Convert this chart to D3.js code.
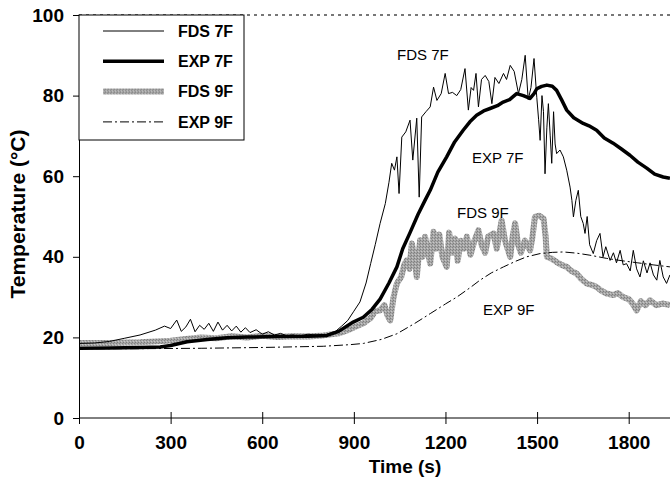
<!DOCTYPE html>
<html>
<head>
<meta charset="utf-8">
<script src="https://cdn.jsdelivr.net/npm/d3@7"></script>
<style>
  body { margin: 0; background: #fff; }
  svg { display: block; font-family: "Liberation Sans", Arial, sans-serif; }
</style>
</head>
<body>
<svg></svg>
<script>
// series: time (s) and temperature (C)
var fds7T = [0,50,100,150,200,250,280,300,320,335,350,365,380,395,410,425,440,455,470,485,500,515,530,545,560,580,600,620,640,660,680,700,720,750,780,810,840,860,880,900,920,940,955,970,986,1003,1015,1024,1033,1041,1048,1057,1070,1084,1093,1106,1114,1122,1136,1150,1161,1172,1186,1199,1210,1223,1237,1250,1264,1275,1284,1292,1300,1308,1318,1330,1342,1352,1362,1375,1390,1400,1412,1425,1439,1450,1461,1471,1480,1490,1499,1505,1510,1516,1521,1526,1532,1537,1543,1548,1554,1559,1564,1575,1586,1597,1608,1614,1619,1627,1635,1643,1651,1657,1664,1672,1684,1695,1706,1716,1725,1739,1750,1760,1772,1782,1793,1805,1815,1826,1837,1848,1860,1870,1881,1892,1902,1913,1924,1935];
var fds7V = [18.5,18.6,19.0,19.8,20.6,21.8,22.8,22.2,24.3,21.5,22.6,24.5,21.4,23.0,22.0,23.5,21.5,23.8,21.8,23.0,21.6,22.8,21.3,22.4,21.2,21.9,20.8,21.4,20.6,21.0,20.4,20.6,20.3,20.8,20.5,20.7,21.5,22.8,24.2,26.5,28.8,33.5,38.3,43.0,48.3,53.2,58.5,63.2,61.5,64.8,55.7,69.7,71.0,73.9,64.0,74.4,54.8,74.7,76.0,77.2,82.1,78.8,80.5,85.5,80.5,80.8,80.0,81.5,86.7,76.4,82.0,81.3,85.5,77.2,84.0,85.0,83.5,78.0,84.5,83.0,85.5,84.0,87.5,86.0,80.5,84.0,90.0,79.0,82.0,89.2,79.6,74.0,68.9,80.0,76.0,60.6,72.0,78.0,70.0,63.2,76.0,68.0,65.6,66.5,64.8,61.5,57.3,54.0,49.9,54.0,56.5,50.0,48.3,45.8,50.0,43.0,40.8,44.0,45.8,40.0,42.5,39.1,41.0,38.5,41.6,38.0,38.3,36.5,41.6,37.0,35.0,39.0,36.0,38.5,35.5,34.2,39.1,35.0,33.4,35.5];

var exp7T = [0,100,200,266,300,354,420,485,550,650,750,812,850,898,931,960,986,1015,1041,1060,1084,1110,1133,1150,1175,1204,1230,1258,1280,1302,1325,1346,1370,1389,1410,1433,1455,1477,1490,1499,1515,1532,1550,1564,1580,1597,1620,1651,1670,1695,1720,1749,1775,1804,1830,1859,1885,1913,1935];
var exp7V = [17.3,17.4,17.5,17.6,18.0,18.9,19.5,19.9,20.1,20.2,20.3,20.5,21.5,23.8,25.0,27.0,29.5,33.5,37.5,42.0,46.0,50.5,54.0,56.5,61.0,64.8,68.5,71.4,73.5,75.1,76.2,76.8,77.5,78.4,79.0,80.5,80.0,79.3,80.5,81.7,82.3,82.6,82.3,81.3,79.0,76.4,74.5,73.1,72.5,71.4,69.5,68.2,66.8,65.2,63.5,62.0,60.5,59.8,59.5];

var fds9T = [0,100,200,300,350,400,450,500,550,600,650,700,750,800,850,880,910,931,955,970,986,1000,1010,1019,1030,1041,1055,1065,1073,1082,1090,1098,1106,1117,1125,1133,1142,1150,1161,1170,1180,1190,1204,1212,1222,1232,1240,1250,1260,1270,1282,1295,1308,1318,1330,1340,1357,1368,1384,1395,1412,1420,1428,1438,1447,1460,1477,1485,1493,1507,1521,1528,1532,1548,1564,1580,1597,1612,1630,1645,1662,1680,1695,1712,1728,1750,1765,1782,1800,1812,1826,1840,1855,1870,1890,1913,1935];
var fds9V = [18.6,18.6,18.8,19.2,19.6,20.0,19.8,20.3,20.0,20.4,20.1,20.3,20.2,20.5,21.0,21.8,22.8,23.5,24.8,26.5,26.7,28.0,25.5,24.2,30.0,33.4,35.0,38.0,39.1,37.0,43.3,40.0,35.0,44.1,40.0,45.0,41.5,38.3,46.2,42.0,45.5,40.0,37.5,46.0,41.0,44.5,39.0,44.0,42.0,45.0,40.5,44.0,46.6,43.0,41.0,45.0,45.8,42.0,49.0,44.0,40.0,45.0,48.3,43.0,41.0,44.0,41.6,45.0,49.9,50.2,49.5,45.0,40.0,39.5,38.7,38.0,37.5,36.5,35.8,34.5,33.4,33.0,32.5,31.5,30.9,30.5,31.0,30.0,29.5,28.5,26.7,29.0,28.0,29.2,28.0,28.4,28.0];

var exp9T = [0,200,400,600,800,888,931,990,1041,1100,1150,1200,1237,1280,1313,1350,1390,1430,1466,1510,1550,1586,1630,1673,1728,1780,1830,1880,1935];
var exp9V = [17.2,17.2,17.3,17.5,17.8,18.2,18.5,19.5,20.9,23.5,25.9,28.3,30.0,32.3,34.2,36.0,37.5,38.9,40.0,40.8,41.1,41.2,40.9,40.4,39.6,39.0,38.5,38.0,37.5];

var xTicks = [0, 300, 600, 900, 1200, 1500, 1800];
var yTicks = [0, 20, 40, 60, 80, 100];
var seriesNames = ["FDS 7F", "EXP 7F", "FDS 9F", "EXP 9F"];

var svgWidth = 670, svgHeight = 488;
var plotLeft = 79, plotRight = 670, plotTop = 15, plotBottom = 418;

var svg = d3.select("svg")
    .attr("width", svgWidth)
    .attr("height", svgHeight);

var xScale = d3.scaleLinear().domain([0, 1800]).range([plotLeft, 628.7]);
var yScale = d3.scaleLinear().domain([0, 100]).range([plotBottom, plotTop]);

// gray texture for FDS 9F
var defs = svg.append("defs");
var pat = defs.append("pattern")
    .attr("id", "grain")
    .attr("patternUnits", "userSpaceOnUse")
    .attr("width", 3).attr("height", 3);
pat.append("rect").attr("width", 3).attr("height", 3).attr("fill", "#a6a6a6");
pat.append("rect").attr("width", 1).attr("height", 1).attr("fill", "#7d7d7d");
pat.append("rect").attr("x", 2).attr("y", 1).attr("width", 1).attr("height", 1).attr("fill", "#858585");
pat.append("rect").attr("x", 1).attr("y", 2).attr("width", 1).attr("height", 1).attr("fill", "#c8c8c8");

defs.append("clipPath").attr("id", "plot")
  .append("rect")
    .attr("x", plotLeft).attr("y", 0)
    .attr("width", plotRight - plotLeft).attr("height", plotBottom);

// top frame (dotted)
svg.append("line")
    .attr("x1", plotLeft).attr("x2", plotRight)
    .attr("y1", plotTop).attr("y2", plotTop)
    .attr("stroke", "#777")
    .attr("stroke-width", 2)
    .attr("stroke-dasharray", "3,4");

function pts(T, V) {
    return T.map(function(t, i) { return [t, V[i]]; });
}

var line = d3.line()
    .x(function(d) { return xScale(d[0]); })
    .y(function(d) { return yScale(d[1]); });

var styles = [
    { data: pts(fds9T, fds9V), stroke: "url(#grain)", width: 6, dash: null },
    { data: pts(exp9T, exp9V), stroke: "#000", width: 1, dash: "9,3,2,3" },
    { data: pts(fds7T, fds7V), stroke: "#000", width: 1, dash: null },
    { data: pts(exp7T, exp7V), stroke: "#000", width: 3.5, dash: null }
];

var plot = svg.append("g").attr("clip-path", "url(#plot)");
plot.selectAll("path")
    .data(styles)
    .enter()
    .append("path")
    .attr("d", function(d) { return line(d.data); })
    .attr("fill", "none")
    .attr("stroke", function(d) { return d.stroke; })
    .attr("stroke-width", function(d) { return d.width; })
    .attr("stroke-dasharray", function(d) { return d.dash; })
    .attr("stroke-linejoin", "round");

//Axis
var y_axis = d3.axisLeft(yScale)
    .tickValues(yTicks)
    .tickSizeInner(6)
    .tickSizeOuter(0)
    .tickPadding(9);

svg.append("g")
    .attr("transform", "translate(" + plotLeft + ",0)")
    .call(y_axis);

var x_minor = d3.axisBottom(xScale)
    .tickValues(d3.range(0, 2000, 100))
    .tickSize(-5)
    .tickFormat("");

svg.append("g")
    .attr("transform", "translate(0," + plotBottom + ")")
    .attr("clip-path", "url(#plot)")
    .call(x_minor)
    .select(".domain").remove();

var x_axis = d3.axisBottom(xScale)
    .tickValues(xTicks)
    .tickFormat(d3.format("d"))
    .tickSizeInner(6)
    .tickSizeOuter(0)
    .tickPadding(12);

var xg = svg.append("g")
    .attr("transform", "translate(0," + plotBottom + ")")
    .call(x_axis);
xg.select(".domain").attr("d", "M" + plotLeft + ",0H" + plotRight);
xg.selectAll(".tick line").attr("y1", -6).attr("y2", 6);

svg.selectAll(".tick text")
    .attr("font-size", 19)
    .attr("font-weight", "bold")
    .attr("font-family", "'Liberation Sans', Arial, sans-serif")
    .attr("fill", "#000");
svg.selectAll(".domain, .tick line").attr("stroke", "#000");

svg.append("text")
    .attr("x", 405).attr("y", 473)
    .attr("text-anchor", "middle")
    .attr("font-size", 19)
    .attr("font-weight", "bold")
    .text("Time (s)");

svg.append("text")
    .attr("transform", "translate(25,214) rotate(-90)")
    .attr("text-anchor", "middle")
    .attr("font-size", 21)
    .attr("font-weight", "bold")
    .text("Temperature (\u00B0C)");

// curve labels
var notes = [
    { t: "FDS 7F", x: 397, y: 60 },
    { t: "EXP 7F", x: 472, y: 163 },
    { t: "FDS 9F", x: 457, y: 218 },
    { t: "EXP 9F", x: 483, y: 315 }
];
svg.selectAll(".note")
    .data(notes)
    .enter()
    .append("text")
    .attr("class", "note")
    .attr("x", function(d) { return d.x; })
    .attr("y", function(d) { return d.y; })
    .attr("font-size", 15)
    .text(function(d) { return d.t; });

// legend
var lg = svg.append("g");
lg.append("rect")
    .attr("x", plotLeft).attr("y", plotTop)
    .attr("width", 165).attr("height", 125)
    .attr("fill", "#fff")
    .attr("stroke", "#000");

var item = lg.selectAll(".item")
    .data(seriesNames)
    .enter()
    .append("g")
    .attr("transform", function(d, i) { return "translate(0," + (31 + i * 30.3) + ")"; });

var order = [2, 3, 0, 1];
item.append("line")
    .attr("x1", 103).attr("x2", 164)
    .attr("stroke", function(d, i) { return styles[order[i]].stroke; })
    .attr("stroke-width", function(d, i) { return styles[order[i]].width; })
    .attr("stroke-dasharray", function(d, i) { return styles[order[i]].dash; });

item.append("text")
    .attr("x", 178)
    .attr("dy", "0.36em")
    .attr("font-size", 16)
    .attr("font-weight", "bold")
    .text(function(d) { return d; });
</script>
</body>
</html>
